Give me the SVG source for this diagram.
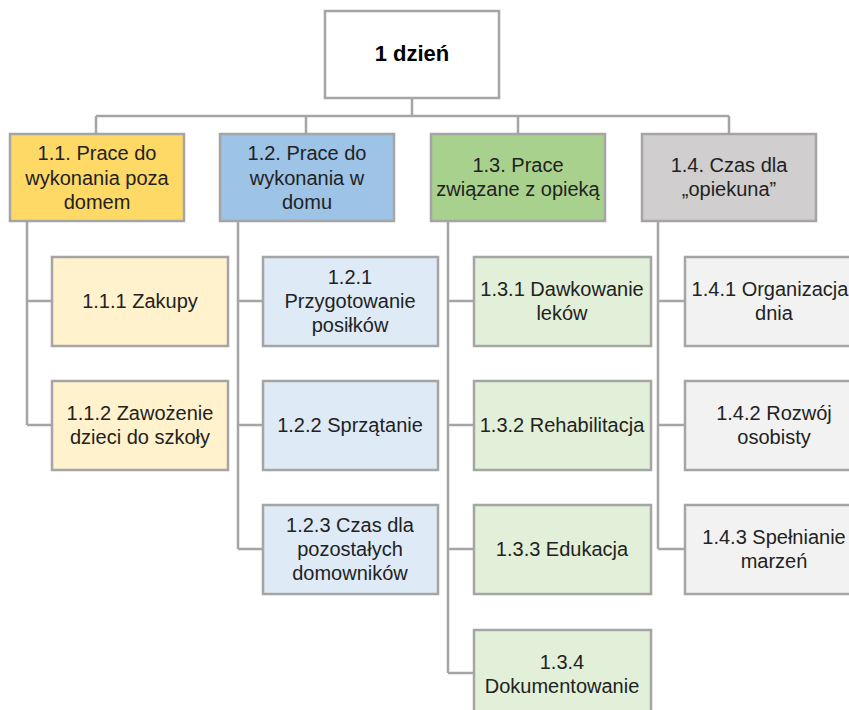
<svg xmlns="http://www.w3.org/2000/svg" width="849" height="710" viewBox="0 0 849 710">
<style>
rect{stroke:#A5A5A5;stroke-width:2.5}
text{font-family:"Liberation Sans",Arial,sans-serif;font-size:20px;fill:#222;text-anchor:middle}
.root{font-weight:bold;font-size:22px;fill:#000}
.c{fill:none;stroke:#A5A5A5;stroke-width:2.5}
.y1{fill:#FFD966}.b1{fill:#9DC3E6}.g1{fill:#A9D18E}.s1{fill:#D0CECE}
.y2{fill:#FFF2CC}.b2{fill:#DEEBF7}.g2{fill:#E2F0D9}.s2{fill:#F2F2F2}
</style>
<rect x="0" y="0" width="849" height="710" fill="#fff" style="stroke:none"/>
<g id="connectors" class="c">
<path d="M412 98V116M96 116H729M96 116V134M306 116V134M518 116V134M729 116V134"/>
<path d="M27 221V425M27 301H52M27 425H52"/>
<path d="M238 221V549M238 301H263M238 425H263M238 549H263"/>
<path d="M448 221V673M448 301H474M448 425H474M448 549H474M448 673H474"/>
<path d="M658 221V549M658 301H685M658 425H685M658 549H685"/>
</g>
<g id="root"><rect x="325" y="11" width="174" height="87" fill="#fff"/><text class="root" x="412" y="61">1 dzień</text></g>
<g id="n11"><rect class="y1" x="10" y="134" width="174" height="87"/><text x="97" y="160">1.1. Prace do</text><text x="97" y="185">wykonania poza</text><text x="97" y="209">domem</text></g>
<g id="n12"><rect class="b1" x="220" y="134" width="174" height="87"/><text x="307" y="160">1.2. Prace do</text><text x="307" y="185">wykonania w</text><text x="307" y="209">domu</text></g>
<g id="n13"><rect class="g1" x="431" y="134" width="174" height="87"/><text x="518" y="172">1.3. Prace</text><text x="518" y="196">związane z opieką</text></g>
<g id="n14"><rect class="s1" x="642" y="134" width="174" height="87"/><text x="729" y="172">1.4. Czas dla</text><text x="729" y="196">„opiekuna”</text></g>
<g id="n111"><rect class="y2" x="52" y="257" width="176" height="89"/><text x="140" y="308">1.1.1 Zakupy</text></g>
<g id="n112"><rect class="y2" x="52" y="381" width="176" height="89"/><text x="140" y="420">1.1.2 Zawożenie</text><text x="140" y="444">dzieci do szkoły</text></g>
<g id="n121"><rect class="b2" x="263" y="257" width="175" height="89"/><text x="350" y="284">1.2.1</text><text x="350" y="308">Przygotowanie</text><text x="350" y="332">posiłków</text></g>
<g id="n122"><rect class="b2" x="263" y="381" width="175" height="89"/><text x="350" y="432">1.2.2 Sprzątanie</text></g>
<g id="n123"><rect class="b2" x="263" y="505" width="175" height="89"/><text x="350" y="532">1.2.3 Czas dla</text><text x="350" y="556">pozostałych</text><text x="350" y="580">domowników</text></g>
<g id="n131"><rect class="g2" x="474" y="257" width="177" height="89"/><text x="562" y="296">1.3.1 Dawkowanie</text><text x="562" y="320">leków</text></g>
<g id="n132"><rect class="g2" x="474" y="381" width="177" height="89"/><text x="562" y="432">1.3.2 Rehabilitacja</text></g>
<g id="n133"><rect class="g2" x="474" y="505" width="177" height="89"/><text x="562" y="556">1.3.3 Edukacja</text></g>
<g id="n134"><rect class="g2" x="474" y="630" width="177" height="89"/><text x="562" y="669">1.3.4</text><text x="562" y="693">Dokumentowanie</text></g>
<g id="n141"><rect class="s2" x="685" y="257" width="178" height="89"/><text x="770" y="296">1.4.1 Organizacja</text><text x="774" y="320">dnia</text></g>
<g id="n142"><rect class="s2" x="685" y="381" width="178" height="89"/><text x="774" y="420">1.4.2 Rozwój</text><text x="774" y="444">osobisty</text></g>
<g id="n143"><rect class="s2" x="685" y="505" width="178" height="89"/><text x="774" y="544">1.4.3 Spełnianie</text><text x="774" y="568">marzeń</text></g>
</svg>
